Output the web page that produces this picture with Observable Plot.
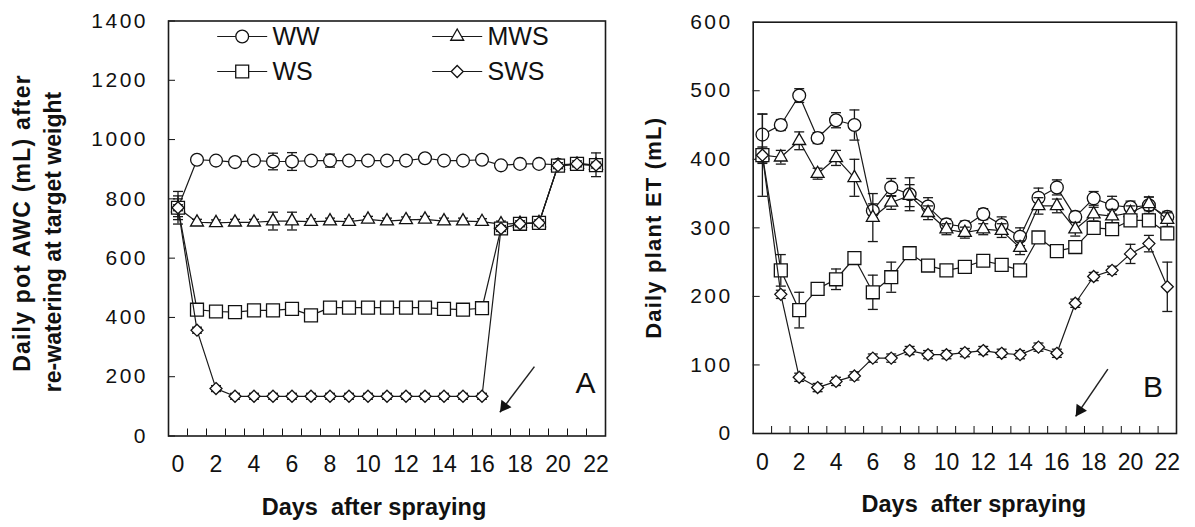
<!DOCTYPE html>
<html><head><meta charset="utf-8">
<script src="https://cdn.jsdelivr.net/npm/d3@7"></script>
<script src="https://cdn.jsdelivr.net/npm/@observablehq/plot@0.6"></script>
<style>
html,body{margin:0;padding:0;background:#fff;}
#wrap{position:relative;width:1195px;height:527px;overflow:hidden;font-family:"Liberation Sans",Arial,sans-serif;}
#wrap > div{position:absolute;top:0;}
#panelA{left:0;} #panelB{left:620px;}
svg text{white-space:pre;}
g[aria-label="y-axis tick label"] text{letter-spacing:2.5px;}
g.ytitle text{letter-spacing:1.2px;}
</style></head><body>
<div id="wrap"><div id="panelA"></div><div id="panelB"></div></div>
<script>
// ---------- data ----------
const days = [0,1,2,3,4,5,6,7,8,9,10,11,12,13,14,15,16,17,18,19,20,21,22];
const seriesNames = ["WW","MWS","WS","SWS"];
const xTickLabels = [0,2,4,6,8,10,12,14,16,18,20,22];
const yTicksA = [0,200,400,600,800,1000,1200,1400];
const yTicksB = [0,100,200,300,400,500,600];

// Panel A: daily pot AWC (mL)
const awcWW  = [770,932,929,924,929,926,926,929,929,929,929,929,929,937,929,929,932,913,918,918,915,918,915];
const awcMWS = [770,721,719,721,721,725,725,723,725,723,731,725,729,731,725,725,723,715,717,719,912,916,913];
const awcWS  = [770,426,420,418,424,424,429,407,433,433,433,433,433,433,429,426,431,700,716,719,912,918,914];
const awcSWS = [770,357,160,134,134,134,134,134,134,134,134,134,134,134,134,134,134,700,716,719,912,918,914];
const awcWWse  = [55,10,10,10,10,28,30,10,22,10,10,10,10,10,10,10,10,10,10,10,10,15,40];
const awcMWSse = [40,10,10,10,10,30,30,10,10,10,10,10,10,10,10,10,10,10,10,10,10,10,10];
const awcWSse  = [30,12,15,10,10,10,18,10,10,10,10,10,10,10,10,10,10,10,10,10,10,10,10];
const awcSWSse = [10,10,10,10,10,10,10,10,10,10,10,10,10,10,10,10,10,10,10,10,10,10,10];

// Panel B: daily plant ET (mL)
const etWW  = [436,450,493,431,457,450,325,359,349,331,305,302,320,304,287,344,359,316,343,333,330,333,316];
const etMWS = [406,403,427,379,402,373,315,337,347,322,298,293,298,296,271,332,332,298,320,317,322,335,312];
const etWS  = [406,238,180,211,225,256,206,228,263,245,238,243,252,246,238,286,266,272,300,298,311,311,292];
const etSWS = [406,203,82,67,76,84,110,110,121,115,115,118,121,117,115,126,117,190,229,238,262,277,214];
const etWWse  = [30,8,10,8,11,22,10,13,24,13,8,8,8,12,13,14,11,8,10,13,9,12,8];
const etMWSse = [12,10,13,8,11,27,35,10,16,10,8,8,8,10,10,12,10,10,10,10,10,10,10];
const etWSse  = [60,23,26,8,15,8,25,22,8,6,6,6,6,6,6,8,8,8,8,8,8,8,8];
const etSWSse = [10,6,6,6,6,6,6,6,6,6,6,6,6,6,6,6,6,6,6,6,14,12,36];

// annotations (arrow tails/heads, in data units)
const arrowA = [{x1:18.76, y1:234, x2:16.94, y2:80}];
const arrowB = [{x1:18.77, y1:94, x2:17.02, y2:25}];

// ---------- helpers ----------
const FONT = '"Liberation Sans", Arial, sans-serif';
const INK = "#111";
const symbols = {WW:"circle", MWS:"triangle", WS:"square", SWS:"diamond2"};
const radii = {WW:6.4, MWS:4.8, WS:7.3, SWS:5.4};
const hline = {draw(ctx, size){ const w = Math.sqrt(size/Math.PI); ctx.moveTo(-w,0); ctx.lineTo(w,0); }};

function rowsFor(values, ses){
  const out = [];
  seriesNames.forEach((s, k) => {
    days.forEach((d, i) => out.push({series:s, day:d, value:values[k][i], se:ses[k][i]}));
  });
  return out;
}

function seriesMarks(rows){
  const marks = [];
  for (const s of seriesNames){
    const r = rows.filter(d => d.series === s);
    marks.push(Plot.line(r, {x:"day", y:"value", stroke:"#1a1a1a", strokeWidth:1.2}));
    marks.push(Plot.ruleX(r, {x:"day", y1:d=>d.value-d.se, y2:d=>d.value+d.se, stroke:"#1a1a1a", strokeWidth:1.3}));
    marks.push(Plot.dot(r, {x:"day", y:d=>d.value+d.se, symbol:hline, r:5, fill:"none", stroke:"#1a1a1a", strokeWidth:1.3}));
    marks.push(Plot.dot(r, {x:"day", y:d=>d.value-d.se, symbol:hline, r:5, fill:"none", stroke:"#1a1a1a", strokeWidth:1.3}));
    marks.push(Plot.dot(r, {x:"day", y:"value", symbol:symbols[s], r:radii[s], fill:"white", stroke:INK, strokeWidth:1.3}));
  }
  return marks;
}

function axesMarks(yTicks){
  return [
    Plot.axisY(yTicks, {tickSize:-7, tickPadding:27.5, fontSize:21, fill:INK, stroke:INK, label:null, tickFormat:d3.format("d")}),
    Plot.axisX(xTickLabels, {tickSize:0, tickPadding:20, fontSize:23, fill:INK, label:null, tickFormat:d3.format("d")}),
    Plot.axisX(days.slice(0,-1).map(d => d + 0.5), {tickSize:-7, tickFormat:() => "", stroke:INK, label:null})
  ];
}

function arrowMarks(arr, rot, hdx, hdy){
  return [
    Plot.link(arr, {x1:"x1", y1:"y1", x2:"x2", y2:"y2", stroke:"#222", strokeWidth:1.5}),
    Plot.dot(arr, {x:"x2", y:"y2", symbol:"triangle2", r:6, fill:"#111", stroke:"none", rotate:rot, dx:hdx, dy:hdy})
  ];
}

function textAt(str, o){
  return Plot.text([str], {text:d=>d, textAnchor:"middle", lineAnchor:"middle", fill:INK, ...o});
}

// ---------- Panel A ----------
const rowsA = rowsFor([awcWW, awcMWS, awcWS, awcSWS], [awcWWse, awcMWSse, awcWSse, awcSWSse]);
const legendMarks = [];
seriesNames.forEach((s, i) => {
  const col = i % 2, row = Math.floor(i / 2);
  const sx = col ? 288.7 : 73.7, tx = col ? 319 : 104, y = row ? 50.5 : 15.5;
  legendMarks.push(Plot.dot([s], {frameAnchor:"top-left", dx:sx, dy:y, symbol:hline, r:25, fill:"none", stroke:"#1a1a1a", strokeWidth:1.2}));
  legendMarks.push(Plot.dot([s], {frameAnchor:"top-left", dx:sx, dy:y, symbol:symbols[s], r:radii[s], fill:"white", stroke:INK, strokeWidth:1.3}));
  legendMarks.push(Plot.text([s], {text:d=>d, frameAnchor:"top-left", dx:tx, dy:y, textAnchor:"start", lineAnchor:"middle", fontSize:25, fill:INK}));
});

const plotA = Plot.plot({
  width:620, height:527,
  marginLeft:168, marginRight:15, marginTop:20.5, marginBottom:91.5,
  style:{fontFamily:FONT, background:"white", overflow:"visible"},
  x:{domain:[-0.5, 22.5]},
  y:{domain:[0, 1400]},
  marks:[
    ...axesMarks(yTicksA),
    ...seriesMarks(rowsA),
    ...legendMarks,
    ...arrowMarks(arrowA, 217, 4.4, -5.8),
    textAt("A", {frameAnchor:"bottom-right", dx:-20, dy:-53, fontSize:30}),
    textAt("Days  after spraying", {frameAnchor:"bottom", dx:-13, dy:71, fontSize:23.5, fontWeight:"bold"}),
    textAt("Daily pot AWC (mL) after", {frameAnchor:"left", rotate:-90, dx:-146, dy:-5.5, fontSize:23, fontWeight:"bold", className:"ytitle"}),
    textAt("re-watering at target weight", {frameAnchor:"left", rotate:-90, dx:-115, dy:13.5, fontSize:23, fontWeight:"bold"}),
    Plot.frame({stroke:"#1a1a1a", strokeWidth:1.6})
  ]
});
document.getElementById("panelA").append(plotA);

// ---------- Panel B ----------
const rowsB = rowsFor([etWW, etMWS, etWS, etSWS], [etWWse, etMWSse, etWSse, etSWSse]);
const plotB = Plot.plot({
  width:575, height:527,
  marginLeft:132.7, marginRight:19, marginTop:21.7, marginBottom:94,
  style:{fontFamily:FONT, background:"white", overflow:"visible"},
  x:{domain:[-0.5, 22.5]},
  y:{domain:[0, 600]},
  marks:[
    ...axesMarks(yTicksB),
    ...seriesMarks(rowsB),
    ...arrowMarks(arrowB, 214, 4.1, -6.0),
    textAt("B", {frameAnchor:"bottom-right", dx:-23.5, dy:-46, fontSize:30}),
    textAt("Days  after spraying", {frameAnchor:"bottom", dx:9, dy:71, fontSize:23.5, fontWeight:"bold"}),
    textAt("Daily plant ET (mL)", {frameAnchor:"left", rotate:-90, dx:-99, dy:0, fontSize:22, fontWeight:"bold", className:"ytitle"}),
    Plot.frame({stroke:"#1a1a1a", strokeWidth:1.6})
  ]
});
document.getElementById("panelB").append(plotB);
</script>
</body></html>
